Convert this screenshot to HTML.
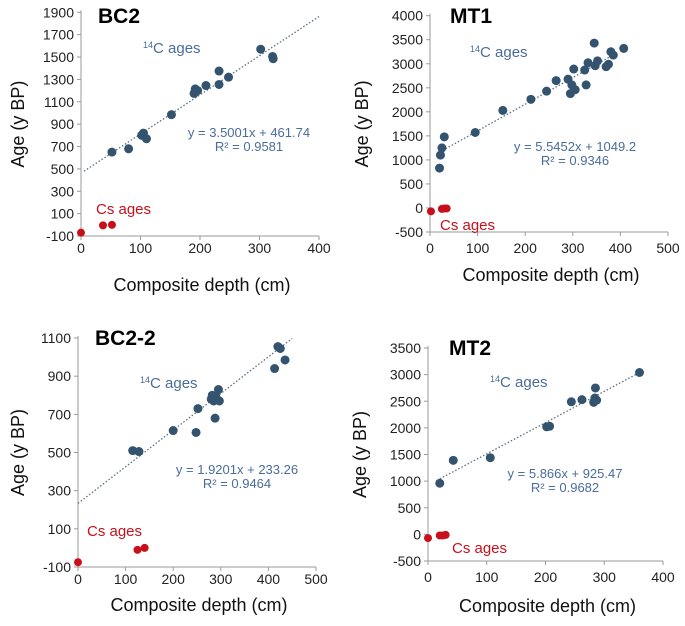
<!DOCTYPE html>
<html><head><meta charset="utf-8"><style>
html,body{margin:0;padding:0;background:#fff;}
svg{display:block;font-family:"Liberation Sans",Arial,sans-serif;}
</style></head><body>
<svg id="chart" width="685" height="626" viewBox="0 0 685 626"></svg>
<script>
// BC2 data
const bc2BlueX=[52,80,102,105,110,152,190,192,196,210,232,232,248,302,322,323];
const bc2BlueY=[650,680,800,820,770,985,1175,1215,1200,1245,1375,1255,1320,1570,1505,1485];
const bc2RedX=[0,37,52];
const bc2RedY=[-70,-5,0];
const bc2YTicks=[-100,100,300,500,700,900,1100,1300,1500,1700,1900];
const bc2XTicks=[0,100,200,300,400];
// MT1 data
const mt1BlueX=[20,22,25,30,95,153,212,245,265,290,295,298,302,305,325,328,332,345,347,352,370,375,380,385,407];
const mt1BlueY=[830,1100,1250,1480,1570,2030,2260,2430,2650,2680,2380,2560,2890,2460,2870,2560,3020,3430,2960,3060,2940,2990,3250,3180,3320];
const mt1RedX=[2,25,30,35];
const mt1RedY=[-70,-20,-10,-10];
const mt1YTicks=[-500,0,500,1000,1500,2000,2500,3000,3500,4000];
const mt1XTicks=[0,100,200,300,400,500];
// BC2-2 data
const bc22BlueX=[115,128,200,248,252,280,282,285,288,290,295,297,413,420,425,435];
const bc22BlueY=[510,505,615,605,730,780,800,770,680,790,830,770,940,1055,1045,985];
const bc22RedX=[0,125,140];
const bc22RedY=[-75,-10,0];
const bc22YTicks=[-100,100,300,500,700,900,1100];
const bc22XTicks=[0,100,200,300,400,500];
// MT2 data
const mt2BlueX=[20,43,106,202,207,244,262,282,284,285,287,360];
const mt2BlueY=[960,1390,1440,2020,2030,2490,2530,2480,2560,2750,2520,3040];
const mt2RedX=[0,20,25,30];
const mt2RedY=[-70,-20,-20,-10];
const mt2YTicks=[-500,0,500,1000,1500,2000,2500,3000,3500];
const mt2XTicks=[0,100,200,300,400];

const NS="http://www.w3.org/2000/svg";
const svg=document.getElementById('chart');
function mk(tag,attrs,parent,text){const e=document.createElementNS(NS,tag);for(const k in attrs)e.setAttribute(k,attrs[k]);if(text!==undefined)e.textContent=text;parent.appendChild(e);return e;}

const panels=[
 {id:'bc2',title:'BC2',bx:bc2BlueX,by:bc2BlueY,rx:bc2RedX,ry:bc2RedY,yt:bc2YTicks,xt:bc2XTicks,
  x0:81,x1:319,y0:236,y1:12.3,slope:3.5001,icpt:461.74,fx0:5,fx1:400,eq:'y = 3.5001x + 461.74',r2:'R² = 0.9581',
  titleX:98,titleY:23,cx:143,cy:53,ex:249,ey:137,csx:96,csy:214,xlabY:253,xtitY:291,ytitX:24},
 {id:'mt1',title:'MT1',bx:mt1BlueX,by:mt1BlueY,rx:mt1RedX,ry:mt1RedY,yt:mt1YTicks,xt:mt1XTicks,
  x0:430,x1:668,y0:232,y1:15.7,slope:5.5452,icpt:1049.2,fx0:20,fx1:392,eq:'y = 5.5452x + 1049.2',r2:'R² = 0.9346',
  titleX:450,titleY:23,cx:470,cy:57,ex:575,ey:151,csx:440,csy:230,xlabY:253,xtitY:281,ytitX:368},
 {id:'bc2-2',title:'BC2-2',bx:bc22BlueX,by:bc22BlueY,rx:bc22RedX,ry:bc22RedY,yt:bc22YTicks,xt:bc22XTicks,
  x0:78,x1:316,y0:567,y1:338,slope:1.9201,icpt:233.26,fx0:0,fx1:450,eq:'y = 1.9201x + 233.26',r2:'R² = 0.9464',
  titleX:95,titleY:345,cx:140,cy:388,ex:237,ey:474,csx:87,csy:536,xlabY:584,xtitY:611,ytitX:24},
 {id:'mt2',title:'MT2',bx:mt2BlueX,by:mt2BlueY,rx:mt2RedX,ry:mt2RedY,yt:mt2YTicks,xt:mt2XTicks,
  x0:428,x1:663,y0:561,y1:348,slope:5.866,icpt:925.47,fx0:20,fx1:360,eq:'y = 5.866x + 925.47',r2:'R² = 0.9682',
  titleX:449,titleY:355,cx:490,cy:387,ex:565,ey:478,csx:452,csy:553,xlabY:582,xtitY:612,ytitX:366}
];

panels.forEach(p=>{
  const g=mk('g',{},svg);
  
  
  const xmin=p.xt[0],xmax=p.xt[p.xt.length-1],ymin=p.yt[0],ymax=p.yt[p.yt.length-1];
  const X=v=>p.x0+(v-xmin)/(xmax-xmin)*(p.x1-p.x0);
  const Y=v=>p.y0-(v-ymin)/(ymax-ymin)*(p.y0-p.y1);
  const ax=mk('line',{x1:p.x0,y1:p.y1-2,x2:p.x0,y2:p.y0,stroke:'#9a9a9a','stroke-width':1},g);
  
  const axx=mk('line',{x1:p.x0,y1:p.y0,x2:p.x1,y2:p.y0,stroke:'#9a9a9a','stroke-width':1},g);
  
  p.yt.forEach(t=>{
    mk('line',{x1:p.x0-4,y1:Y(t),x2:p.x0,y2:Y(t),stroke:'#9a9a9a'},g);
    const tl=mk('text',{x:p.x0-7,y:Y(t)+5,'text-anchor':'end','font-size':14,fill:'#222'},g,t<0?'-'+Math.abs(t):String(t));
    
  });
  p.xt.forEach(t=>{
    mk('line',{x1:X(t),y1:p.y0,x2:X(t),y2:p.y0+4,stroke:'#9a9a9a'},g);
    const tl=mk('text',{x:X(t),y:p.xlabY,'text-anchor':'middle','font-size':14,fill:'#222'},g,String(t));
    
  });
  const tr=mk('line',{x1:X(p.fx0),y1:Y(p.slope*p.fx0+p.icpt),x2:X(p.fx1),y2:Y(p.slope*p.fx1+p.icpt),stroke:'#5a6e80','stroke-width':1.3,'stroke-dasharray':'1.5,2'},g);
  
  p.bx.forEach((v,i)=>{
    const c=mk('circle',{cx:X(v),cy:Y(p.by[i]),r:4.5,fill:'#34536f'},g);
    
    
  });
  p.rx.forEach((v,i)=>{
    const c=mk('circle',{cx:X(v),cy:Y(p.ry[i]),r:4,fill:'#c8101a'},g);
    
    
  });
  const t=mk('text',{x:p.titleX,y:p.titleY,'font-size':21,'font-weight':'bold',fill:'#000'},g,p.title);
  
  const c14=mk('text',{x:p.cx,y:p.cy,'font-size':15,fill:'#4a6c9b'},g);
  
  mk('tspan',{'font-size':9,dy:-5},c14,'14');
  mk('tspan',{dy:5},c14,'C ages');
  const e1=mk('text',{x:p.ex,y:p.ey,'text-anchor':'middle','font-size':13,fill:'#4a6c9b'},g,p.eq);
  
  const e2=mk('text',{x:p.ex,y:p.ey+14,'text-anchor':'middle','font-size':13,fill:'#4a6c9b'},g,p.r2);
  
  const cs=mk('text',{x:p.csx,y:p.csy,'font-size':15,fill:'#c8101a'},g,'Cs ages');
  
  const xt=mk('text',{x:(p.x0+p.x1)/2+2,y:p.xtitY,'text-anchor':'middle','font-size':18,fill:'#111'},g,'Composite depth (cm)');
  
  const yc=(p.y0+p.y1)/2;
  const yt=mk('text',{x:p.ytitX,y:yc,'text-anchor':'middle','font-size':18,fill:'#111',transform:'rotate(-90 '+p.ytitX+' '+yc+')'},g,'Age (y BP)');
  
});
</script>
</body></html>
